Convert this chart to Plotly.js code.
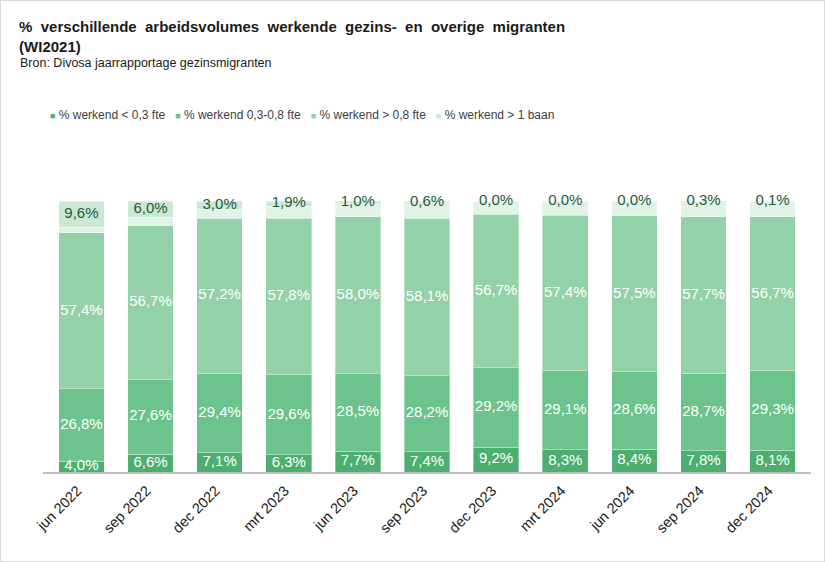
<!DOCTYPE html>
<html>
<head>
<meta charset="utf-8">
<script src="https://cdn.plot.ly/plotly-3.0.1.min.js"></script>
<style>
body { margin: 0; background: #fff; }
#chart { width: 825px; height: 562px; box-sizing: border-box; border: 1px solid #d9d9d9; }
</style>
</head>
<body>
<div id="chart"></div>
<script>
// Periods on the x axis.
var periods = ['jun 2022', 'sep 2022', 'dec 2022', 'mrt 2023', 'jun 2023', 'sep 2023',
  'dec 2023', 'mrt 2024', 'jun 2024', 'sep 2024', 'dec 2024'];
// Share of working migrants per work volume (%).
var lt03 = [4.0, 6.6, 7.1, 6.3, 7.7, 7.4, 9.2, 8.3, 8.4, 7.8, 8.1];
var fte0308 = [26.8, 27.6, 29.4, 29.6, 28.5, 28.2, 29.2, 29.1, 28.6, 28.7, 29.3];
var gt08 = [57.4, 56.7, 57.2, 57.8, 58.0, 58.1, 56.7, 57.4, 57.5, 57.7, 56.7];
var gt1baan = [9.6, 6.0, 3.0, 1.9, 1.0, 0.6, 0.0, 0.0, 0.0, 0.3, 0.1];
var names = ['% werkend < 0,3 fte', '% werkend 0,3-0,8 fte', '% werkend > 0,8 fte', '% werkend > 1 baan'];

// Remaining part up to 100% (unlabelled strip below the top segment).
var rest = periods.map(function(p, i){
  return Math.max(0, Math.round((100 - lt03[i] - fte0308[i] - gt08[i] - gt1baan[i]) * 100) / 100);
});

function pct(v){ return v.toFixed(1).replace('.', ',') + '%'; }
function esc(s){ return s.replace(/</g, '&lt;').replace(/>/g, '&gt;'); }

var colors = ['#4caf70', '#6cc48c', '#93d1a8', '#cbe8d4'];
var series = [lt03, fte0308, gt08, rest, gt1baan];
var barColors = [colors[0], colors[1], colors[2], '#e1f2e7', colors[3]];
var barNames = [names[0], names[1], names[2], 'rest', names[3]];

var traces = [];
series.forEach(function(vals, k){
  traces.push({
    type: 'bar',
    x: periods,
    y: vals,
    name: barNames[k],
    showlegend: false,
    marker: {color: barColors[k], line: {color: 'rgba(255,255,255,0.35)', width: 1}},
    hoverinfo: 'skip'
  });
});

// Labels at the middle of each labelled segment.
var labelled = [[lt03, 0, '#ffffff'], [fte0308, 1, '#ffffff'], [gt08, 2, '#ffffff'], [gt1baan, 4, '#1d5b3b']];
labelled.forEach(function(item){
  var vals = item[0], level = item[1];
  var ys = vals.map(function(v, i){
    var base = 0;
    for (var j = 0; j < level; ++j) base += series[j][i];
    return Math.round((base + v / 2) * 100) / 100;
  });
  traces.push({
    type: 'scatter',
    mode: 'text',
    x: periods,
    y: ys,
    text: vals.map(pct),
    textposition: 'middle center',
    textfont: {family: 'Liberation Sans, Arial', size: 15, color: item[2]},
    showlegend: false,
    hoverinfo: 'skip',
    cliponaxis: level == 0
  });
});

// Compact legend line: small squares close to the text, like the original.
var legendText = names.map(function(n, k){
  return '<span style="color:' + colors[k] + ';font-size:9px;">■</span> ' + esc(n);
}).join('   ');

var layout = {
  width: 823,
  height: 560,
  margin: {l: 42, r: 13, t: 200, b: 89},
  barmode: 'stack',
  bargap: 0.34,
  showlegend: false,
  paper_bgcolor: '#ffffff',
  plot_bgcolor: '#ffffff',
  font: {family: 'Liberation Sans, Arial', color: '#404040'},
  title: {
    text: '<b>%  verschillende  arbeidsvolumes  werkende  gezins-  en  overige  migranten<br>(WI2021)</b>',
    font: {family: 'Liberation Sans, Arial', size: 15, color: '#1a1a1a'},
    x: 0.022, xanchor: 'left', xref: 'container',
    y: 0.944, yanchor: 'top', yref: 'container'
  },
  annotations: [{
    text: 'Bron: Divosa jaarrapportage gezinsmigranten',
    xref: 'paper', yref: 'paper',
    x: -0.0326, xanchor: 'left',
    y: 1.509, yanchor: 'middle',
    showarrow: false,
    font: {family: 'Liberation Sans, Arial', size: 12.5, color: '#1a1a1a'}
  }, {
    text: legendText,
    xref: 'paper', yref: 'paper',
    x: 0.006, xanchor: 'left',
    y: 1.317, yanchor: 'middle',
    showarrow: false,
    font: {family: 'Liberation Sans, Arial', size: 12, color: '#404040'}
  }],
  xaxis: {
    type: 'category',
    tickangle: -45,
    tickfont: {family: 'Liberation Sans, Arial', size: 14.5, color: '#1a1a1a'},
    ticklabelshift: -4,
    ticklabelstandoff: 3,
    showline: true,
    linecolor: '#bfbfbf',
    linewidth: 1.5,
    ticks: '',
    fixedrange: true
  },
  yaxis: {
    range: [0, 100],
    visible: false,
    showgrid: false,
    zeroline: false,
    fixedrange: true
  }
};

Plotly.newPlot('chart', traces, layout, {displayModeBar: false, staticPlot: true});
</script>
</body>
</html>
